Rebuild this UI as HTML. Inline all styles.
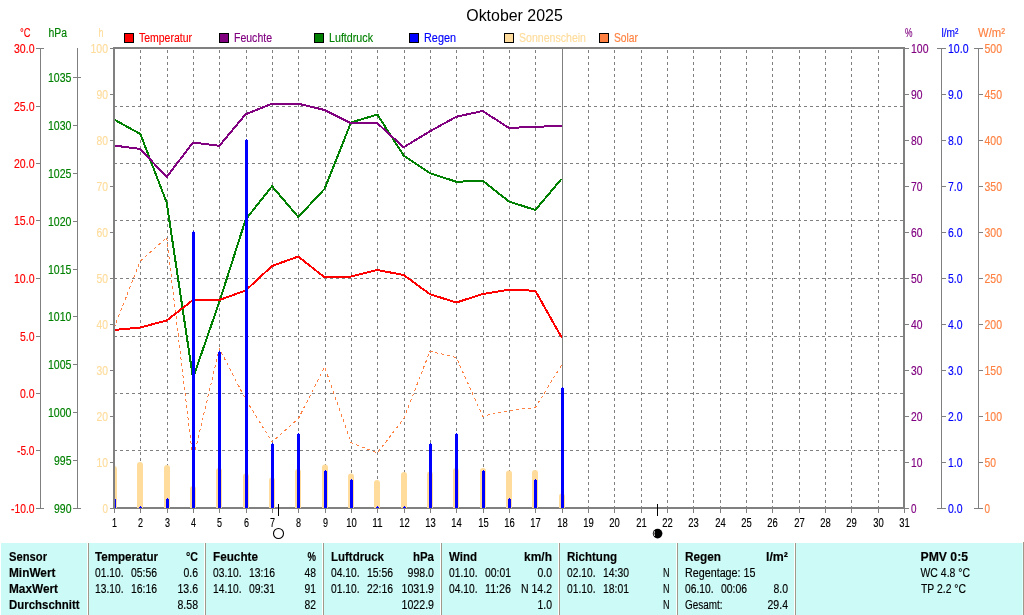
<!DOCTYPE html>
<html lang="de"><head><meta charset="utf-8"><title>Oktober 2025</title>
<style>html,body{margin:0;padding:0;background:#fff;overflow:hidden}svg{display:block}text{white-space:pre}</style></head>
<body>
<svg width="1024" height="615" viewBox="0 0 1024 615" font-family="'Liberation Sans', Arial, sans-serif" font-size="12.5" shape-rendering="crispEdges" stroke-width="0.15">
<rect width="1024" height="615" fill="#fff"/>
<text x="514.5" y="20.5" fill="#000" stroke="#000" text-anchor="middle" textLength="96.5" lengthAdjust="spacingAndGlyphs" font-size="16" stroke-width="0">Oktober 2025</text>
<rect x="124.5" y="33.5" width="9" height="9" fill="#FF0000" stroke="#000" stroke-width="1"/>
<text x="139" y="42" fill="#FF0000" stroke="#FF0000" textLength="53" lengthAdjust="spacingAndGlyphs">Temperatur</text>
<rect x="219.5" y="33.5" width="9" height="9" fill="#800080" stroke="#000" stroke-width="1"/>
<text x="234" y="42" fill="#800080" stroke="#800080" textLength="38" lengthAdjust="spacingAndGlyphs">Feuchte</text>
<rect x="314.5" y="33.5" width="9" height="9" fill="#008000" stroke="#000" stroke-width="1"/>
<text x="329" y="42" fill="#008000" stroke="#008000" textLength="44" lengthAdjust="spacingAndGlyphs">Luftdruck</text>
<rect x="409.5" y="33.5" width="9" height="9" fill="#0000FF" stroke="#000" stroke-width="1"/>
<text x="424" y="42" fill="#0000FF" stroke="#0000FF" textLength="32" lengthAdjust="spacingAndGlyphs">Regen</text>
<rect x="504.5" y="33.5" width="9" height="9" fill="#FFDC9B" stroke="#000" stroke-width="1"/>
<text x="519" y="42" fill="#FFDC9B" stroke="#FFDC9B" textLength="67" lengthAdjust="spacingAndGlyphs">Sonnenschein</text>
<rect x="599.5" y="33.5" width="9" height="9" fill="#FF8040" stroke="#000" stroke-width="1"/>
<text x="614" y="42" fill="#FF8040" stroke="#FF8040" textLength="24" lengthAdjust="spacingAndGlyphs">Solar</text>
<text x="20" y="37" fill="#FF0000" stroke="#FF0000" textLength="10.5" lengthAdjust="spacingAndGlyphs">°C</text>
<text x="48.5" y="37" fill="#008000" stroke="#008000" textLength="18.5" lengthAdjust="spacingAndGlyphs">hPa</text>
<text x="98.5" y="37" fill="#FFDC9B" stroke="#FFDC9B" textLength="5" lengthAdjust="spacingAndGlyphs">h</text>
<text x="905" y="37" fill="#800080" stroke="#800080" textLength="7.5" lengthAdjust="spacingAndGlyphs">%</text>
<text x="941.5" y="37" fill="#0000FF" stroke="#0000FF" textLength="17" lengthAdjust="spacingAndGlyphs">l/m²</text>
<text x="978" y="37" fill="#FF8040" stroke="#FF8040" textLength="27" lengthAdjust="spacingAndGlyphs">W/m²</text>
<g stroke="#808080" stroke-width="1" stroke-dasharray="3 3" fill="none">
<line x1="140.5" y1="50" x2="140.5" y2="507"/>
<line x1="167.5" y1="50" x2="167.5" y2="507"/>
<line x1="193.5" y1="50" x2="193.5" y2="507"/>
<line x1="219.5" y1="50" x2="219.5" y2="507"/>
<line x1="246.5" y1="50" x2="246.5" y2="507"/>
<line x1="272.5" y1="50" x2="272.5" y2="507"/>
<line x1="298.5" y1="50" x2="298.5" y2="507"/>
<line x1="325.5" y1="50" x2="325.5" y2="507"/>
<line x1="351.5" y1="50" x2="351.5" y2="507"/>
<line x1="377.5" y1="50" x2="377.5" y2="507"/>
<line x1="404.5" y1="50" x2="404.5" y2="507"/>
<line x1="430.5" y1="50" x2="430.5" y2="507"/>
<line x1="456.5" y1="50" x2="456.5" y2="507"/>
<line x1="483.5" y1="50" x2="483.5" y2="507"/>
<line x1="509.5" y1="50" x2="509.5" y2="507"/>
<line x1="535.5" y1="50" x2="535.5" y2="507"/>
<line x1="562.5" y1="50" x2="562.5" y2="507"/>
<line x1="588.5" y1="50" x2="588.5" y2="507"/>
<line x1="614.5" y1="50" x2="614.5" y2="507"/>
<line x1="641.5" y1="50" x2="641.5" y2="507"/>
<line x1="667.5" y1="50" x2="667.5" y2="507"/>
<line x1="693.5" y1="50" x2="693.5" y2="507"/>
<line x1="720.5" y1="50" x2="720.5" y2="507"/>
<line x1="746.5" y1="50" x2="746.5" y2="507"/>
<line x1="772.5" y1="50" x2="772.5" y2="507"/>
<line x1="799.5" y1="50" x2="799.5" y2="507"/>
<line x1="825.5" y1="50" x2="825.5" y2="507"/>
<line x1="851.5" y1="50" x2="851.5" y2="507"/>
<line x1="878.5" y1="50" x2="878.5" y2="507"/>
<line x1="114" y1="106.5" x2="903" y2="106.5"/>
<line x1="114" y1="163.5" x2="903" y2="163.5"/>
<line x1="114" y1="220.5" x2="903" y2="220.5"/>
<line x1="114" y1="278.5" x2="903" y2="278.5"/>
<line x1="114" y1="336.5" x2="903" y2="336.5"/>
<line x1="114" y1="393.5" x2="903" y2="393.5"/>
<line x1="114" y1="450.5" x2="903" y2="450.5"/>
</g>
<rect x="114" y="48" width="790" height="460" fill="none" stroke="#808080" stroke-width="2"/>
<clipPath id="pc"><rect x="115" y="49" width="788" height="459"/></clipPath>
<g clip-path="url(#pc)">
<path d="M111 508V469A3 3 0 0 1 117 469V508Z" fill="#FFDC9B" shape-rendering="auto"/>
<path d="M137 508V465A3 3 0 0 1 143 465V508Z" fill="#FFDC9B" shape-rendering="auto"/>
<path d="M164 508V468A3 3 0 0 1 170 468V508Z" fill="#FFDC9B" shape-rendering="auto"/>
<path d="M190 508V489A3 3 0 0 1 196 489V508Z" fill="#FFDC9B" shape-rendering="auto"/>
<path d="M216 508V471A3 3 0 0 1 222 471V508Z" fill="#FFDC9B" shape-rendering="auto"/>
<path d="M243 508V476.5A3 3 0 0 1 249 476.5V508Z" fill="#FFDC9B" shape-rendering="auto"/>
<path d="M269 508V480.5A3 3 0 0 1 275 480.5V508Z" fill="#FFDC9B" shape-rendering="auto"/>
<path d="M295 508V472A3 3 0 0 1 301 472V508Z" fill="#FFDC9B" shape-rendering="auto"/>
<path d="M322 508V467.5A3 3 0 0 1 328 467.5V508Z" fill="#FFDC9B" shape-rendering="auto"/>
<path d="M348 508V476.5A3 3 0 0 1 354 476.5V508Z" fill="#FFDC9B" shape-rendering="auto"/>
<path d="M374 508V483A3 3 0 0 1 380 483V508Z" fill="#FFDC9B" shape-rendering="auto"/>
<path d="M401 508V475A3 3 0 0 1 407 475V508Z" fill="#FFDC9B" shape-rendering="auto"/>
<path d="M427 508V474.5A3 3 0 0 1 433 474.5V508Z" fill="#FFDC9B" shape-rendering="auto"/>
<path d="M453 508V471A3 3 0 0 1 459 471V508Z" fill="#FFDC9B" shape-rendering="auto"/>
<path d="M480 508V471A3 3 0 0 1 486 471V508Z" fill="#FFDC9B" shape-rendering="auto"/>
<path d="M506 508V473.5A3 3 0 0 1 512 473.5V508Z" fill="#FFDC9B" shape-rendering="auto"/>
<path d="M532 508V473A3 3 0 0 1 538 473V508Z" fill="#FFDC9B" shape-rendering="auto"/>
<path d="M559 508V496.5A3 3 0 0 1 565 496.5V508Z" fill="#FFDC9B" shape-rendering="auto"/>
<polyline points="114.00,328 140.33,261 166.67,237.5 193.00,460 219.33,348.5 245.67,399.5 272.00,442 298.33,418.75 324.67,367 351.00,442.5 377.33,453 403.67,418.75 430.00,351.25 456.33,357.5 482.67,416.25 509.00,410.5 535.33,407.5 561.67,365" fill="none" stroke="#FF8040" stroke-width="1" stroke-dasharray="3 3"/>
</g>
<rect x="562" y="49" width="1" height="458" fill="#808080"/>
<g clip-path="url(#pc)">
<polyline points="114.00,119.5 140.33,134 166.67,202.5 193.00,378 219.33,302 245.67,219.5 272.00,186.25 298.33,217 324.67,188.75 351.00,122.5 377.33,114.5 403.67,155.5 430.00,173.25 456.33,181.75 482.67,180.75 509.00,201.5 535.33,210 561.67,178.75" fill="none" stroke="#008000" stroke-width="2" stroke-linejoin="round"/>
<polyline points="114.00,145.5 140.33,149 166.67,177 193.00,142.5 219.33,145.75 245.67,114.25 272.00,103.75 298.33,103.75 324.67,110 351.00,123.25 377.33,123.25 403.67,147.25 430.00,131.25 456.33,116.75 482.67,111 509.00,128 535.33,126.75 561.67,126" fill="none" stroke="#800080" stroke-width="2" stroke-linejoin="round"/>
<polyline points="114.00,330 140.33,327.5 166.67,320.5 193.00,300 219.33,300 245.67,290.5 272.00,266 298.33,256.5 324.67,277.5 351.00,276.5 377.33,270 403.67,275 430.00,294.25 456.33,302.5 482.67,294 509.00,289.75 535.33,290.75 561.67,337.5" fill="none" stroke="#FF0000" stroke-width="2" stroke-linejoin="round"/>
<path d="M113 508V499H114V498H115V499H116V508Z" fill="#0000FF"/>
<path d="M139 508V507H140V506H141V507H142V508Z" fill="#0000FF"/>
<path d="M166 508V499H167V498H168V499H169V508Z" fill="#0000FF"/>
<path d="M192 508V232H193V231H194V232H195V508Z" fill="#0000FF"/>
<path d="M218 508V352H219V351H220V352H221V508Z" fill="#0000FF"/>
<path d="M245 508V140H246V139H247V140H248V508Z" fill="#0000FF"/>
<path d="M271 508V444H272V443H273V444H274V508Z" fill="#0000FF"/>
<path d="M297 508V434H298V433H299V434H300V508Z" fill="#0000FF"/>
<path d="M324 508V471H325V470H326V471H327V508Z" fill="#0000FF"/>
<path d="M350 508V480H351V479H352V480H353V508Z" fill="#0000FF"/>
<path d="M376 508V507H377V506H378V507H379V508Z" fill="#0000FF"/>
<path d="M403 508V507H404V506H405V507H406V508Z" fill="#0000FF"/>
<path d="M429 508V444H430V443H431V444H432V508Z" fill="#0000FF"/>
<path d="M455 508V434H456V433H457V434H458V508Z" fill="#0000FF"/>
<path d="M482 508V471H483V470H484V471H485V508Z" fill="#0000FF"/>
<path d="M508 508V499H509V498H510V499H511V508Z" fill="#0000FF"/>
<path d="M534 508V480H535V479H536V480H537V508Z" fill="#0000FF"/>
<path d="M561 508V388H562V387H563V388H564V508Z" fill="#0000FF"/>
</g>
<rect x="114" y="509" width="1" height="4" fill="#808080"/>
<text x="114.5" y="527" fill="#000" stroke="#000" text-anchor="middle" textLength="5" lengthAdjust="spacingAndGlyphs">1</text>
<rect x="140" y="509" width="1" height="4" fill="#808080"/>
<text x="140.5" y="527" fill="#000" stroke="#000" text-anchor="middle" textLength="5" lengthAdjust="spacingAndGlyphs">2</text>
<rect x="167" y="509" width="1" height="4" fill="#808080"/>
<text x="167.5" y="527" fill="#000" stroke="#000" text-anchor="middle" textLength="5" lengthAdjust="spacingAndGlyphs">3</text>
<rect x="193" y="509" width="1" height="4" fill="#808080"/>
<text x="193.5" y="527" fill="#000" stroke="#000" text-anchor="middle" textLength="5" lengthAdjust="spacingAndGlyphs">4</text>
<rect x="219" y="509" width="1" height="4" fill="#808080"/>
<text x="219.5" y="527" fill="#000" stroke="#000" text-anchor="middle" textLength="5" lengthAdjust="spacingAndGlyphs">5</text>
<rect x="246" y="509" width="1" height="4" fill="#808080"/>
<text x="246.5" y="527" fill="#000" stroke="#000" text-anchor="middle" textLength="5" lengthAdjust="spacingAndGlyphs">6</text>
<rect x="272" y="509" width="1" height="4" fill="#808080"/>
<text x="272.5" y="527" fill="#000" stroke="#000" text-anchor="middle" textLength="5" lengthAdjust="spacingAndGlyphs">7</text>
<rect x="298" y="509" width="1" height="4" fill="#808080"/>
<text x="298.5" y="527" fill="#000" stroke="#000" text-anchor="middle" textLength="5" lengthAdjust="spacingAndGlyphs">8</text>
<rect x="325" y="509" width="1" height="4" fill="#808080"/>
<text x="325.5" y="527" fill="#000" stroke="#000" text-anchor="middle" textLength="5" lengthAdjust="spacingAndGlyphs">9</text>
<rect x="351" y="509" width="1" height="4" fill="#808080"/>
<text x="351.5" y="527" fill="#000" stroke="#000" text-anchor="middle" textLength="10.5" lengthAdjust="spacingAndGlyphs">10</text>
<rect x="377" y="509" width="1" height="4" fill="#808080"/>
<text x="377.5" y="527" fill="#000" stroke="#000" text-anchor="middle" textLength="10.5" lengthAdjust="spacingAndGlyphs">11</text>
<rect x="404" y="509" width="1" height="4" fill="#808080"/>
<text x="404.5" y="527" fill="#000" stroke="#000" text-anchor="middle" textLength="10.5" lengthAdjust="spacingAndGlyphs">12</text>
<rect x="430" y="509" width="1" height="4" fill="#808080"/>
<text x="430.5" y="527" fill="#000" stroke="#000" text-anchor="middle" textLength="10.5" lengthAdjust="spacingAndGlyphs">13</text>
<rect x="456" y="509" width="1" height="4" fill="#808080"/>
<text x="456.5" y="527" fill="#000" stroke="#000" text-anchor="middle" textLength="10.5" lengthAdjust="spacingAndGlyphs">14</text>
<rect x="483" y="509" width="1" height="4" fill="#808080"/>
<text x="483.5" y="527" fill="#000" stroke="#000" text-anchor="middle" textLength="10.5" lengthAdjust="spacingAndGlyphs">15</text>
<rect x="509" y="509" width="1" height="4" fill="#808080"/>
<text x="509.5" y="527" fill="#000" stroke="#000" text-anchor="middle" textLength="10.5" lengthAdjust="spacingAndGlyphs">16</text>
<rect x="535" y="509" width="1" height="4" fill="#808080"/>
<text x="535.5" y="527" fill="#000" stroke="#000" text-anchor="middle" textLength="10.5" lengthAdjust="spacingAndGlyphs">17</text>
<rect x="562" y="509" width="1" height="4" fill="#808080"/>
<text x="562.5" y="527" fill="#000" stroke="#000" text-anchor="middle" textLength="10.5" lengthAdjust="spacingAndGlyphs">18</text>
<rect x="588" y="509" width="1" height="4" fill="#808080"/>
<text x="588.5" y="527" fill="#000" stroke="#000" text-anchor="middle" textLength="10.5" lengthAdjust="spacingAndGlyphs">19</text>
<rect x="614" y="509" width="1" height="4" fill="#808080"/>
<text x="614.5" y="527" fill="#000" stroke="#000" text-anchor="middle" textLength="10.5" lengthAdjust="spacingAndGlyphs">20</text>
<rect x="641" y="509" width="1" height="4" fill="#808080"/>
<text x="641.5" y="527" fill="#000" stroke="#000" text-anchor="middle" textLength="10.5" lengthAdjust="spacingAndGlyphs">21</text>
<rect x="667" y="509" width="1" height="4" fill="#808080"/>
<text x="667.5" y="527" fill="#000" stroke="#000" text-anchor="middle" textLength="10.5" lengthAdjust="spacingAndGlyphs">22</text>
<rect x="693" y="509" width="1" height="4" fill="#808080"/>
<text x="693.5" y="527" fill="#000" stroke="#000" text-anchor="middle" textLength="10.5" lengthAdjust="spacingAndGlyphs">23</text>
<rect x="720" y="509" width="1" height="4" fill="#808080"/>
<text x="720.5" y="527" fill="#000" stroke="#000" text-anchor="middle" textLength="10.5" lengthAdjust="spacingAndGlyphs">24</text>
<rect x="746" y="509" width="1" height="4" fill="#808080"/>
<text x="746.5" y="527" fill="#000" stroke="#000" text-anchor="middle" textLength="10.5" lengthAdjust="spacingAndGlyphs">25</text>
<rect x="772" y="509" width="1" height="4" fill="#808080"/>
<text x="772.5" y="527" fill="#000" stroke="#000" text-anchor="middle" textLength="10.5" lengthAdjust="spacingAndGlyphs">26</text>
<rect x="799" y="509" width="1" height="4" fill="#808080"/>
<text x="799.5" y="527" fill="#000" stroke="#000" text-anchor="middle" textLength="10.5" lengthAdjust="spacingAndGlyphs">27</text>
<rect x="825" y="509" width="1" height="4" fill="#808080"/>
<text x="825.5" y="527" fill="#000" stroke="#000" text-anchor="middle" textLength="10.5" lengthAdjust="spacingAndGlyphs">28</text>
<rect x="851" y="509" width="1" height="4" fill="#808080"/>
<text x="851.5" y="527" fill="#000" stroke="#000" text-anchor="middle" textLength="10.5" lengthAdjust="spacingAndGlyphs">29</text>
<rect x="878" y="509" width="1" height="4" fill="#808080"/>
<text x="878.5" y="527" fill="#000" stroke="#000" text-anchor="middle" textLength="10.5" lengthAdjust="spacingAndGlyphs">30</text>
<rect x="904" y="509" width="1" height="4" fill="#808080"/>
<text x="904.5" y="527" fill="#000" stroke="#000" text-anchor="middle" textLength="10.5" lengthAdjust="spacingAndGlyphs">31</text>
<rect x="40" y="48" width="1" height="461" fill="#808080"/>
<rect x="36" y="48" width="8" height="1" fill="#808080"/>
<text x="34.5" y="53" fill="#FF0000" stroke="#FF0000" text-anchor="end" textLength="20.5" lengthAdjust="spacingAndGlyphs">30.0</text>
<rect x="36" y="106" width="4" height="1" fill="#808080"/>
<text x="34.5" y="111" fill="#FF0000" stroke="#FF0000" text-anchor="end" textLength="20.5" lengthAdjust="spacingAndGlyphs">25.0</text>
<rect x="36" y="163" width="4" height="1" fill="#808080"/>
<text x="34.5" y="168" fill="#FF0000" stroke="#FF0000" text-anchor="end" textLength="20.5" lengthAdjust="spacingAndGlyphs">20.0</text>
<rect x="36" y="220" width="4" height="1" fill="#808080"/>
<text x="34.5" y="225" fill="#FF0000" stroke="#FF0000" text-anchor="end" textLength="20.5" lengthAdjust="spacingAndGlyphs">15.0</text>
<rect x="36" y="278" width="4" height="1" fill="#808080"/>
<text x="34.5" y="283" fill="#FF0000" stroke="#FF0000" text-anchor="end" textLength="20.5" lengthAdjust="spacingAndGlyphs">10.0</text>
<rect x="36" y="336" width="4" height="1" fill="#808080"/>
<text x="34.5" y="341" fill="#FF0000" stroke="#FF0000" text-anchor="end" textLength="14.5" lengthAdjust="spacingAndGlyphs">5.0</text>
<rect x="36" y="393" width="4" height="1" fill="#808080"/>
<text x="34.5" y="398" fill="#FF0000" stroke="#FF0000" text-anchor="end" textLength="14.5" lengthAdjust="spacingAndGlyphs">0.0</text>
<rect x="36" y="450" width="4" height="1" fill="#808080"/>
<text x="34.5" y="455" fill="#FF0000" stroke="#FF0000" text-anchor="end" textLength="17.5" lengthAdjust="spacingAndGlyphs">-5.0</text>
<rect x="36" y="508" width="8" height="1" fill="#808080"/>
<text x="34.5" y="513" fill="#FF0000" stroke="#FF0000" text-anchor="end" textLength="23.5" lengthAdjust="spacingAndGlyphs">-10.0</text>
<rect x="77" y="48" width="1" height="461" fill="#808080"/>
<rect x="73" y="508" width="8" height="1" fill="#808080"/>
<text x="71.5" y="513" fill="#008000" stroke="#008000" text-anchor="end" textLength="17.5" lengthAdjust="spacingAndGlyphs">990</text>
<rect x="73" y="460" width="4" height="1" fill="#808080"/>
<text x="71.5" y="465" fill="#008000" stroke="#008000" text-anchor="end" textLength="17.5" lengthAdjust="spacingAndGlyphs">995</text>
<rect x="73" y="412" width="4" height="1" fill="#808080"/>
<text x="71.5" y="417" fill="#008000" stroke="#008000" text-anchor="end" textLength="23.5" lengthAdjust="spacingAndGlyphs">1000</text>
<rect x="73" y="364" width="4" height="1" fill="#808080"/>
<text x="71.5" y="369" fill="#008000" stroke="#008000" text-anchor="end" textLength="23.5" lengthAdjust="spacingAndGlyphs">1005</text>
<rect x="73" y="316" width="4" height="1" fill="#808080"/>
<text x="71.5" y="321" fill="#008000" stroke="#008000" text-anchor="end" textLength="23.5" lengthAdjust="spacingAndGlyphs">1010</text>
<rect x="73" y="269" width="4" height="1" fill="#808080"/>
<text x="71.5" y="274" fill="#008000" stroke="#008000" text-anchor="end" textLength="23.5" lengthAdjust="spacingAndGlyphs">1015</text>
<rect x="73" y="221" width="4" height="1" fill="#808080"/>
<text x="71.5" y="226" fill="#008000" stroke="#008000" text-anchor="end" textLength="23.5" lengthAdjust="spacingAndGlyphs">1020</text>
<rect x="73" y="173" width="4" height="1" fill="#808080"/>
<text x="71.5" y="178" fill="#008000" stroke="#008000" text-anchor="end" textLength="23.5" lengthAdjust="spacingAndGlyphs">1025</text>
<rect x="73" y="125" width="4" height="1" fill="#808080"/>
<text x="71.5" y="130" fill="#008000" stroke="#008000" text-anchor="end" textLength="23.5" lengthAdjust="spacingAndGlyphs">1030</text>
<rect x="73" y="77" width="8" height="1" fill="#808080"/>
<text x="71.5" y="82" fill="#008000" stroke="#008000" text-anchor="end" textLength="23.5" lengthAdjust="spacingAndGlyphs">1035</text>
<rect x="110" y="508" width="3" height="1" fill="#808080"/>
<text x="108" y="513" fill="#FFDC9B" stroke="#FFDC9B" text-anchor="end" textLength="5.5" lengthAdjust="spacingAndGlyphs">0</text>
<rect x="110" y="462" width="3" height="1" fill="#808080"/>
<text x="108" y="467" fill="#FFDC9B" stroke="#FFDC9B" text-anchor="end" textLength="11.5" lengthAdjust="spacingAndGlyphs">10</text>
<rect x="110" y="416" width="3" height="1" fill="#808080"/>
<text x="108" y="421" fill="#FFDC9B" stroke="#FFDC9B" text-anchor="end" textLength="11.5" lengthAdjust="spacingAndGlyphs">20</text>
<rect x="110" y="370" width="3" height="1" fill="#808080"/>
<text x="108" y="375" fill="#FFDC9B" stroke="#FFDC9B" text-anchor="end" textLength="11.5" lengthAdjust="spacingAndGlyphs">30</text>
<rect x="110" y="324" width="3" height="1" fill="#808080"/>
<text x="108" y="329" fill="#FFDC9B" stroke="#FFDC9B" text-anchor="end" textLength="11.5" lengthAdjust="spacingAndGlyphs">40</text>
<rect x="110" y="278" width="3" height="1" fill="#808080"/>
<text x="108" y="283" fill="#FFDC9B" stroke="#FFDC9B" text-anchor="end" textLength="11.5" lengthAdjust="spacingAndGlyphs">50</text>
<rect x="110" y="232" width="3" height="1" fill="#808080"/>
<text x="108" y="237" fill="#FFDC9B" stroke="#FFDC9B" text-anchor="end" textLength="11.5" lengthAdjust="spacingAndGlyphs">60</text>
<rect x="110" y="186" width="3" height="1" fill="#808080"/>
<text x="108" y="191" fill="#FFDC9B" stroke="#FFDC9B" text-anchor="end" textLength="11.5" lengthAdjust="spacingAndGlyphs">70</text>
<rect x="110" y="140" width="3" height="1" fill="#808080"/>
<text x="108" y="145" fill="#FFDC9B" stroke="#FFDC9B" text-anchor="end" textLength="11.5" lengthAdjust="spacingAndGlyphs">80</text>
<rect x="110" y="94" width="3" height="1" fill="#808080"/>
<text x="108" y="99" fill="#FFDC9B" stroke="#FFDC9B" text-anchor="end" textLength="11.5" lengthAdjust="spacingAndGlyphs">90</text>
<rect x="110" y="48" width="3" height="1" fill="#808080"/>
<text x="108" y="53" fill="#FFDC9B" stroke="#FFDC9B" text-anchor="end" textLength="17.5" lengthAdjust="spacingAndGlyphs">100</text>
<rect x="905" y="508" width="4" height="1" fill="#808080"/>
<text x="911" y="513" fill="#800080" stroke="#800080" textLength="5.5" lengthAdjust="spacingAndGlyphs">0</text>
<rect x="905" y="462" width="4" height="1" fill="#808080"/>
<text x="911" y="467" fill="#800080" stroke="#800080" textLength="11.5" lengthAdjust="spacingAndGlyphs">10</text>
<rect x="905" y="416" width="4" height="1" fill="#808080"/>
<text x="911" y="421" fill="#800080" stroke="#800080" textLength="11.5" lengthAdjust="spacingAndGlyphs">20</text>
<rect x="905" y="370" width="4" height="1" fill="#808080"/>
<text x="911" y="375" fill="#800080" stroke="#800080" textLength="11.5" lengthAdjust="spacingAndGlyphs">30</text>
<rect x="905" y="324" width="4" height="1" fill="#808080"/>
<text x="911" y="329" fill="#800080" stroke="#800080" textLength="11.5" lengthAdjust="spacingAndGlyphs">40</text>
<rect x="905" y="278" width="4" height="1" fill="#808080"/>
<text x="911" y="283" fill="#800080" stroke="#800080" textLength="11.5" lengthAdjust="spacingAndGlyphs">50</text>
<rect x="905" y="232" width="4" height="1" fill="#808080"/>
<text x="911" y="237" fill="#800080" stroke="#800080" textLength="11.5" lengthAdjust="spacingAndGlyphs">60</text>
<rect x="905" y="186" width="4" height="1" fill="#808080"/>
<text x="911" y="191" fill="#800080" stroke="#800080" textLength="11.5" lengthAdjust="spacingAndGlyphs">70</text>
<rect x="905" y="140" width="4" height="1" fill="#808080"/>
<text x="911" y="145" fill="#800080" stroke="#800080" textLength="11.5" lengthAdjust="spacingAndGlyphs">80</text>
<rect x="905" y="94" width="4" height="1" fill="#808080"/>
<text x="911" y="99" fill="#800080" stroke="#800080" textLength="11.5" lengthAdjust="spacingAndGlyphs">90</text>
<rect x="905" y="48" width="4" height="1" fill="#808080"/>
<text x="911" y="53" fill="#800080" stroke="#800080" textLength="17.5" lengthAdjust="spacingAndGlyphs">100</text>
<rect x="941" y="48" width="1" height="461" fill="#808080"/>
<rect x="978" y="48" width="1" height="461" fill="#808080"/>
<rect x="937" y="508" width="9" height="1" fill="#808080"/>
<rect x="974" y="508" width="9" height="1" fill="#808080"/>
<text x="948" y="513" fill="#0000FF" stroke="#0000FF" textLength="14.5" lengthAdjust="spacingAndGlyphs">0.0</text>
<text x="984.5" y="513" fill="#FF8040" stroke="#FF8040" textLength="5.5" lengthAdjust="spacingAndGlyphs">0</text>
<rect x="942" y="462" width="4" height="1" fill="#808080"/>
<rect x="979" y="462" width="4" height="1" fill="#808080"/>
<text x="948" y="467" fill="#0000FF" stroke="#0000FF" textLength="14.5" lengthAdjust="spacingAndGlyphs">1.0</text>
<text x="984.5" y="467" fill="#FF8040" stroke="#FF8040" textLength="11.5" lengthAdjust="spacingAndGlyphs">50</text>
<rect x="942" y="416" width="4" height="1" fill="#808080"/>
<rect x="979" y="416" width="4" height="1" fill="#808080"/>
<text x="948" y="421" fill="#0000FF" stroke="#0000FF" textLength="14.5" lengthAdjust="spacingAndGlyphs">2.0</text>
<text x="984.5" y="421" fill="#FF8040" stroke="#FF8040" textLength="17.5" lengthAdjust="spacingAndGlyphs">100</text>
<rect x="942" y="370" width="4" height="1" fill="#808080"/>
<rect x="979" y="370" width="4" height="1" fill="#808080"/>
<text x="948" y="375" fill="#0000FF" stroke="#0000FF" textLength="14.5" lengthAdjust="spacingAndGlyphs">3.0</text>
<text x="984.5" y="375" fill="#FF8040" stroke="#FF8040" textLength="17.5" lengthAdjust="spacingAndGlyphs">150</text>
<rect x="942" y="324" width="4" height="1" fill="#808080"/>
<rect x="979" y="324" width="4" height="1" fill="#808080"/>
<text x="948" y="329" fill="#0000FF" stroke="#0000FF" textLength="14.5" lengthAdjust="spacingAndGlyphs">4.0</text>
<text x="984.5" y="329" fill="#FF8040" stroke="#FF8040" textLength="17.5" lengthAdjust="spacingAndGlyphs">200</text>
<rect x="942" y="278" width="4" height="1" fill="#808080"/>
<rect x="979" y="278" width="4" height="1" fill="#808080"/>
<text x="948" y="283" fill="#0000FF" stroke="#0000FF" textLength="14.5" lengthAdjust="spacingAndGlyphs">5.0</text>
<text x="984.5" y="283" fill="#FF8040" stroke="#FF8040" textLength="17.5" lengthAdjust="spacingAndGlyphs">250</text>
<rect x="942" y="232" width="4" height="1" fill="#808080"/>
<rect x="979" y="232" width="4" height="1" fill="#808080"/>
<text x="948" y="237" fill="#0000FF" stroke="#0000FF" textLength="14.5" lengthAdjust="spacingAndGlyphs">6.0</text>
<text x="984.5" y="237" fill="#FF8040" stroke="#FF8040" textLength="17.5" lengthAdjust="spacingAndGlyphs">300</text>
<rect x="942" y="186" width="4" height="1" fill="#808080"/>
<rect x="979" y="186" width="4" height="1" fill="#808080"/>
<text x="948" y="191" fill="#0000FF" stroke="#0000FF" textLength="14.5" lengthAdjust="spacingAndGlyphs">7.0</text>
<text x="984.5" y="191" fill="#FF8040" stroke="#FF8040" textLength="17.5" lengthAdjust="spacingAndGlyphs">350</text>
<rect x="942" y="140" width="4" height="1" fill="#808080"/>
<rect x="979" y="140" width="4" height="1" fill="#808080"/>
<text x="948" y="145" fill="#0000FF" stroke="#0000FF" textLength="14.5" lengthAdjust="spacingAndGlyphs">8.0</text>
<text x="984.5" y="145" fill="#FF8040" stroke="#FF8040" textLength="17.5" lengthAdjust="spacingAndGlyphs">400</text>
<rect x="942" y="94" width="4" height="1" fill="#808080"/>
<rect x="979" y="94" width="4" height="1" fill="#808080"/>
<text x="948" y="99" fill="#0000FF" stroke="#0000FF" textLength="14.5" lengthAdjust="spacingAndGlyphs">9.0</text>
<text x="984.5" y="99" fill="#FF8040" stroke="#FF8040" textLength="17.5" lengthAdjust="spacingAndGlyphs">450</text>
<rect x="937" y="48" width="9" height="1" fill="#808080"/>
<rect x="974" y="48" width="9" height="1" fill="#808080"/>
<text x="948" y="53" fill="#0000FF" stroke="#0000FF" textLength="20.5" lengthAdjust="spacingAndGlyphs">10.0</text>
<text x="984.5" y="53" fill="#FF8040" stroke="#FF8040" textLength="17.5" lengthAdjust="spacingAndGlyphs">500</text>
<rect x="278" y="504" width="1" height="12" fill="#000"/>
<circle cx="278.5" cy="533.5" r="5" fill="#fff" stroke="#000" stroke-width="1.1" shape-rendering="auto"/>
<rect x="657" y="504" width="1" height="12" fill="#000"/>
<circle cx="657.6" cy="533.6" r="4.8" fill="#000" shape-rendering="auto"/>
<path d="M654.6 531.2 Q653.6 533.6 654.6 536" stroke="#fff" stroke-width="0.8" fill="none" shape-rendering="auto"/>
<rect x="1" y="543" width="1023" height="72" fill="#CCFAF6"/>
<rect x="87" y="543" width="1" height="72" fill="#FFFFFF"/>
<rect x="88" y="543" width="1" height="72" fill="#A09888"/>
<rect x="204" y="543" width="1" height="72" fill="#FFFFFF"/>
<rect x="205" y="543" width="1" height="72" fill="#A09888"/>
<rect x="322" y="543" width="1" height="72" fill="#FFFFFF"/>
<rect x="323" y="543" width="1" height="72" fill="#A09888"/>
<rect x="440" y="543" width="1" height="72" fill="#FFFFFF"/>
<rect x="441" y="543" width="1" height="72" fill="#A09888"/>
<rect x="558" y="543" width="1" height="72" fill="#FFFFFF"/>
<rect x="559" y="543" width="1" height="72" fill="#A09888"/>
<rect x="676" y="543" width="1" height="72" fill="#FFFFFF"/>
<rect x="677" y="543" width="1" height="72" fill="#A09888"/>
<rect x="794" y="543" width="1" height="72" fill="#FFFFFF"/>
<rect x="795" y="543" width="1" height="72" fill="#A09888"/>
<rect x="1022" y="543" width="1" height="72" fill="#DDFFFF"/>
<rect x="1023" y="542" width="1" height="73" fill="#A09888"/>
<text x="9" y="561" fill="#000" stroke="#000" textLength="38" lengthAdjust="spacingAndGlyphs" font-weight="bold">Sensor</text>
<text x="9" y="577" fill="#000" stroke="#000" textLength="46.5" lengthAdjust="spacingAndGlyphs" font-weight="bold">MinWert</text>
<text x="9" y="593" fill="#000" stroke="#000" textLength="49" lengthAdjust="spacingAndGlyphs" font-weight="bold">MaxWert</text>
<text x="9" y="609" fill="#000" stroke="#000" textLength="70.5" lengthAdjust="spacingAndGlyphs" font-weight="bold">Durchschnitt</text>
<text x="95" y="561" fill="#000" stroke="#000" textLength="63" lengthAdjust="spacingAndGlyphs" font-weight="bold">Temperatur</text>
<text x="198" y="561" fill="#000" stroke="#000" text-anchor="end" textLength="12" lengthAdjust="spacingAndGlyphs" font-weight="bold">°C</text>
<text x="95" y="577" fill="#000" stroke="#000" textLength="28.5" lengthAdjust="spacingAndGlyphs">01.10.</text>
<text x="131" y="577" fill="#000" stroke="#000" textLength="26" lengthAdjust="spacingAndGlyphs">05:56</text>
<text x="198" y="577" fill="#000" stroke="#000" text-anchor="end" textLength="14.5" lengthAdjust="spacingAndGlyphs">0.6</text>
<text x="95" y="593" fill="#000" stroke="#000" textLength="28.5" lengthAdjust="spacingAndGlyphs">13.10.</text>
<text x="131" y="593" fill="#000" stroke="#000" textLength="26" lengthAdjust="spacingAndGlyphs">16:16</text>
<text x="198" y="593" fill="#000" stroke="#000" text-anchor="end" textLength="20.5" lengthAdjust="spacingAndGlyphs">13.6</text>
<text x="198" y="609" fill="#000" stroke="#000" text-anchor="end" textLength="20.5" lengthAdjust="spacingAndGlyphs">8.58</text>
<text x="213" y="561" fill="#000" stroke="#000" textLength="45" lengthAdjust="spacingAndGlyphs" font-weight="bold">Feuchte</text>
<text x="316" y="561" fill="#000" stroke="#000" text-anchor="end" textLength="8.5" lengthAdjust="spacingAndGlyphs" font-weight="bold">%</text>
<text x="213" y="577" fill="#000" stroke="#000" textLength="28.5" lengthAdjust="spacingAndGlyphs">03.10.</text>
<text x="249" y="577" fill="#000" stroke="#000" textLength="26" lengthAdjust="spacingAndGlyphs">13:16</text>
<text x="316" y="577" fill="#000" stroke="#000" text-anchor="end" textLength="11.5" lengthAdjust="spacingAndGlyphs">48</text>
<text x="213" y="593" fill="#000" stroke="#000" textLength="28.5" lengthAdjust="spacingAndGlyphs">14.10.</text>
<text x="249" y="593" fill="#000" stroke="#000" textLength="26" lengthAdjust="spacingAndGlyphs">09:31</text>
<text x="316" y="593" fill="#000" stroke="#000" text-anchor="end" textLength="11.5" lengthAdjust="spacingAndGlyphs">91</text>
<text x="316" y="609" fill="#000" stroke="#000" text-anchor="end" textLength="11.5" lengthAdjust="spacingAndGlyphs">82</text>
<text x="331" y="561" fill="#000" stroke="#000" textLength="53" lengthAdjust="spacingAndGlyphs" font-weight="bold">Luftdruck</text>
<text x="434" y="561" fill="#000" stroke="#000" text-anchor="end" textLength="21" lengthAdjust="spacingAndGlyphs" font-weight="bold">hPa</text>
<text x="331" y="577" fill="#000" stroke="#000" textLength="28.5" lengthAdjust="spacingAndGlyphs">04.10.</text>
<text x="367" y="577" fill="#000" stroke="#000" textLength="26" lengthAdjust="spacingAndGlyphs">15:56</text>
<text x="434" y="577" fill="#000" stroke="#000" text-anchor="end" textLength="26.5" lengthAdjust="spacingAndGlyphs">998.0</text>
<text x="331" y="593" fill="#000" stroke="#000" textLength="28.5" lengthAdjust="spacingAndGlyphs">01.10.</text>
<text x="367" y="593" fill="#000" stroke="#000" textLength="26" lengthAdjust="spacingAndGlyphs">22:16</text>
<text x="434" y="593" fill="#000" stroke="#000" text-anchor="end" textLength="32.5" lengthAdjust="spacingAndGlyphs">1031.9</text>
<text x="434" y="609" fill="#000" stroke="#000" text-anchor="end" textLength="32.5" lengthAdjust="spacingAndGlyphs">1022.9</text>
<text x="449" y="561" fill="#000" stroke="#000" textLength="28" lengthAdjust="spacingAndGlyphs" font-weight="bold">Wind</text>
<text x="552" y="561" fill="#000" stroke="#000" text-anchor="end" textLength="28" lengthAdjust="spacingAndGlyphs" font-weight="bold">km/h</text>
<text x="449" y="577" fill="#000" stroke="#000" textLength="28.5" lengthAdjust="spacingAndGlyphs">01.10.</text>
<text x="485" y="577" fill="#000" stroke="#000" textLength="26" lengthAdjust="spacingAndGlyphs">00:01</text>
<text x="552" y="577" fill="#000" stroke="#000" text-anchor="end" textLength="14.5" lengthAdjust="spacingAndGlyphs">0.0</text>
<text x="449" y="593" fill="#000" stroke="#000" textLength="28.5" lengthAdjust="spacingAndGlyphs">04.10.</text>
<text x="485" y="593" fill="#000" stroke="#000" textLength="26" lengthAdjust="spacingAndGlyphs">11:26</text>
<text x="552" y="593" fill="#000" stroke="#000" text-anchor="end" textLength="31" lengthAdjust="spacingAndGlyphs">N 14.2</text>
<text x="552" y="609" fill="#000" stroke="#000" text-anchor="end" textLength="14.5" lengthAdjust="spacingAndGlyphs">1.0</text>
<text x="567" y="561" fill="#000" stroke="#000" textLength="50" lengthAdjust="spacingAndGlyphs" font-weight="bold">Richtung</text>
<text x="567" y="577" fill="#000" stroke="#000" textLength="28.5" lengthAdjust="spacingAndGlyphs">02.10.</text>
<text x="603" y="577" fill="#000" stroke="#000" textLength="26" lengthAdjust="spacingAndGlyphs">14:30</text>
<text x="669.5" y="577" fill="#000" stroke="#000" text-anchor="end" textLength="6.5" lengthAdjust="spacingAndGlyphs">N</text>
<text x="567" y="593" fill="#000" stroke="#000" textLength="28.5" lengthAdjust="spacingAndGlyphs">01.10.</text>
<text x="603" y="593" fill="#000" stroke="#000" textLength="26" lengthAdjust="spacingAndGlyphs">18:01</text>
<text x="669.5" y="593" fill="#000" stroke="#000" text-anchor="end" textLength="6.5" lengthAdjust="spacingAndGlyphs">N</text>
<text x="669.5" y="609" fill="#000" stroke="#000" text-anchor="end" textLength="6.5" lengthAdjust="spacingAndGlyphs">N</text>
<text x="685" y="561" fill="#000" stroke="#000" textLength="36" lengthAdjust="spacingAndGlyphs" font-weight="bold">Regen</text>
<text x="788" y="561" fill="#000" stroke="#000" text-anchor="end" textLength="22" lengthAdjust="spacingAndGlyphs" font-weight="bold">l/m²</text>
<text x="685" y="577" fill="#000" stroke="#000" textLength="70.5" lengthAdjust="spacingAndGlyphs">Regentage: 15</text>
<text x="685" y="593" fill="#000" stroke="#000" textLength="28.5" lengthAdjust="spacingAndGlyphs">06.10.</text>
<text x="721" y="593" fill="#000" stroke="#000" textLength="26" lengthAdjust="spacingAndGlyphs">00:06</text>
<text x="788" y="593" fill="#000" stroke="#000" text-anchor="end" textLength="14.5" lengthAdjust="spacingAndGlyphs">8.0</text>
<text x="685" y="609" fill="#000" stroke="#000" textLength="37.5" lengthAdjust="spacingAndGlyphs">Gesamt:</text>
<text x="788" y="609" fill="#000" stroke="#000" text-anchor="end" textLength="20.5" lengthAdjust="spacingAndGlyphs">29.4</text>
<text x="920.5" y="561" fill="#000" stroke="#000" textLength="47.5" lengthAdjust="spacingAndGlyphs" font-weight="bold">PMV 0:5</text>
<text x="920.5" y="577" fill="#000" stroke="#000" textLength="49.5" lengthAdjust="spacingAndGlyphs">WC 4.8 °C</text>
<text x="921" y="593" fill="#000" stroke="#000" textLength="45" lengthAdjust="spacingAndGlyphs">TP 2.2 °C</text>
</svg>
</body></html>
